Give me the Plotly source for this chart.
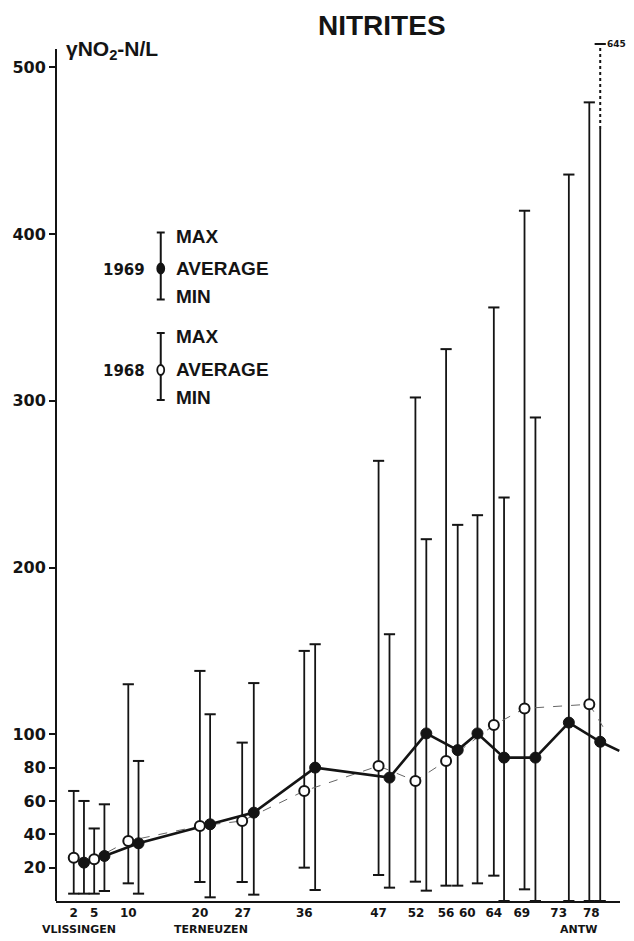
import plotly.graph_objects as go

# ---------------- data ----------------
# 1968 campaign (open circles): station position along estuary (km)
km_1968 = [2.1, 5.1, 10.1, 20.6, 26.8, 35.9, 46.8, 52.2, 56.7, 63.7, 68.2, 77.7]
avg_1968 = [26, 25, 36, 45, 48, 66, 81, 72, 84, 105.5, 115.5, 118]
max_1968 = [66, 43.5, 130, 138, 95, 150, 264, 302, 331, 356, 414, 479]
min_1968 = [4.4, 4.4, 10.6, 11.4, 11.4, 20, 15.6, 11.6, 9.2, 15.2, 7, 0]
tail_1968 = (79.7, 104.5)   # line continuing past the last station

# 1969 campaign (filled circles)
km_1969 = [3.6, 6.6, 11.6, 22.1, 28.5, 37.5, 48.4, 53.8, 58.4, 61.3, 65.2, 69.8, 74.7, 79.3]
avg_1969 = [23, 27, 34.6, 46, 53, 80, 74, 100.5, 90.5, 100.5, 86, 86, 107, 95.5]
max_1969 = [60, 58, 84, 112, 130.7, 154, 160, 217, 225.6, 231.4, 242, 290, 435.7, 645]
min_1969 = [4.4, 6, 4.4, 2.2, 3.8, 6.6, 8, 6.2, 9.2, 10.6, 0, 0, 0, 0]
tail_1969 = (82.1, 90)

# x tick labels (station km) and their positions
tick_pos = [2.1, 5.1, 10.1, 20.6, 26.9, 35.9, 46.8, 52.3, 56.7, 59.8, 63.7, 67.8, 73.2, 78.0]
tick_text = ['2', '5', '10', '20', '27', '36', '47', '52', '56', '60', '64', '69', '73', '78']
y_ticks = [20, 40, 60, 80, 100, 200, 300, 400, 500]

places = [('VLISSINGEN', 2.9), ('TERNEUZEN', 22.2), ('ANTW', 76.1)]

# axis scale settings
Y_RANGE = [0, 520]
X_RANGE = [-0.5, 82.2]
AXIS_TOP = 511      # end of the drawn y axis
BREAK_AT = 463      # broken bar: solid up to here, dashed above
DRAWN_TOP = 514     # where an off-scale maximum is drawn

# ---------------- layout geometry ----------------
W_FIG, H_FIG = 634, 941
ML, MR, MT, MB = 53, 14, 34, 40
PW, PH = W_FIG - ML - MR, H_FIG - MT - MB


def PX(px):
    return (px - ML) / PW


def PY(py):
    return (MT + PH - py) / PH


BLACK = '#141414'
NARROW = 'Liberation Sans, Arial, sans-serif'
WIDE = 'DejaVu Sans, Verdana, sans-serif'

fig = go.Figure()


def add_bars(xs, lo, hi, name):
    X, Y, cx, cy = [], [], [], []
    for x, a, b in zip(xs, lo, hi):
        top = b if b <= AXIS_TOP else BREAK_AT
        X += [x, x, None]
        Y += [a, top, None]
        cx += [x]
        cy += [a]
        if b <= AXIS_TOP:
            cx += [x]
            cy += [b]
        else:
            cx += [x]
            cy += [DRAWN_TOP]
            fig.add_trace(go.Scatter(x=[x, x], y=[BREAK_AT, DRAWN_TOP], mode='lines',
                                     line=dict(color=BLACK, width=2, dash='dot'),
                                     hoverinfo='skip', showlegend=False, cliponaxis=False))
            fig.add_annotation(x=x, y=DRAWN_TOP, xref='x', yref='y', text=str(int(b)),
                               showarrow=False, xanchor='left', yanchor='middle', xshift=5,
                               font=dict(family=WIDE, size=9, color=BLACK, weight='bold'))
    fig.add_trace(go.Scatter(x=X, y=Y, mode='lines', line=dict(color=BLACK, width=1.8),
                             hoverinfo='skip', showlegend=False, name=name, cliponaxis=False))
    fig.add_trace(go.Scatter(x=cx, y=cy, mode='markers', hoverinfo='skip', showlegend=False,
                             marker=dict(symbol='line-ew', size=8,
                                         line=dict(color=BLACK, width=2)), cliponaxis=False))


add_bars(km_1968, min_1968, max_1968, '1968 range')
add_bars(km_1969, min_1969, max_1969, '1969 range')

# connecting lines
fig.add_trace(go.Scatter(x=km_1968 + [tail_1968[0]], y=avg_1968 + [tail_1968[1]], mode='lines',
                         line=dict(color='#666666', width=1, dash='dash', shape='linear'),
                         hoverinfo='skip', showlegend=False))
fig.add_trace(go.Scatter(x=km_1969 + [tail_1969[0]], y=avg_1969 + [tail_1969[1]], mode='lines',
                         line=dict(color=BLACK, width=2.6), hoverinfo='skip', showlegend=False,
                         cliponaxis=False))

# average markers
fig.add_trace(go.Scatter(x=km_1968, y=avg_1968, mode='markers', name='1968',
                         marker=dict(symbol='circle', size=10, color='white',
                                     line=dict(color=BLACK, width=2)), showlegend=False))
fig.add_trace(go.Scatter(x=km_1969, y=avg_1969, mode='markers', name='1969',
                         marker=dict(symbol='circle', size=11, color=BLACK,
                                     line=dict(color=BLACK, width=1)), showlegend=False))

shapes = []
# y axis line (ends just above 500)
shapes.append(dict(type='line', xref='paper', yref='y', x0=0, x1=0, y0=0, y1=AXIS_TOP,
                   line=dict(color=BLACK, width=2)))

# ---------------- hand-drawn legend ----------------
def legend_item(year, filled, top_py, mid_py, bot_py, txt_py):
    xc = 158.3
    shapes.append(dict(type='line', xref='paper', yref='paper', x0=PX(xc), x1=PX(xc),
                       y0=PY(top_py), y1=PY(bot_py), line=dict(color=BLACK, width=2)))
    for yy in (top_py, bot_py):
        shapes.append(dict(type='line', xref='paper', yref='paper', x0=PX(xc - 4), x1=PX(xc + 4),
                           y0=PY(yy), y1=PY(yy), line=dict(color=BLACK, width=2)))
    shapes.append(dict(type='circle', xref='paper', yref='paper',
                       x0=PX(xc - 3.5), x1=PX(xc + 3.5), y0=PY(mid_py - 5), y1=PY(mid_py + 5),
                       fillcolor=BLACK if filled else 'white', line=dict(color=BLACK, width=1.8)))
    fig.add_annotation(x=PX(144), y=PY(mid_py + 1), xref='paper', yref='paper', text=year,
                       showarrow=False, xanchor='right', yanchor='middle',
                       font=dict(family=WIDE, size=15, color=BLACK, weight='bold'))
    for label, yy in zip(['MAX', 'AVERAGE', 'MIN'], txt_py):
        fig.add_annotation(x=PX(172), y=PY(yy), xref='paper', yref='paper', text=label,
                           showarrow=False, xanchor='left', yanchor='middle',
                           font=dict(family=NARROW, size=19, color=BLACK, weight='bold'))


legend_item('1969', True, 232.5, 268.5, 299.5, [236, 268, 297])
legend_item('1968', False, 333, 370, 400, [336, 369, 397])

# ---------------- titles / labels ----------------
fig.add_annotation(x=PX(381), y=PY(25), xref='paper', yref='paper', text='NITRITES',
                   showarrow=False, xanchor='center', yanchor='middle',
                   font=dict(family=NARROW, size=28, color=BLACK, weight='bold'))
fig.add_annotation(x=PX(61), y=PY(50), xref='paper', yref='paper',
                   text='γNO<sub>2</sub>-N/L', showarrow=False, xanchor='left', yanchor='middle',
                   font=dict(family=NARROW, size=21, color=BLACK, weight='bold'))
for name, k in places:
    fig.add_annotation(x=k, y=PY(930), xref='x', yref='paper', text=name, showarrow=False,
                       xanchor='center', yanchor='middle',
                       font=dict(family=WIDE, size=11, color=BLACK, weight='bold'))

fig.update_layout(
    width=W_FIG, height=H_FIG,
    margin=dict(l=ML, r=MR, t=MT, b=MB, pad=0),
    paper_bgcolor='white', plot_bgcolor='white',
    shapes=shapes,
    showlegend=False,
    xaxis=dict(range=X_RANGE, showgrid=False, zeroline=False, showline=True,
               linecolor=BLACK, linewidth=2, ticks='', tickvals=tick_pos, ticktext=tick_text,
               tickfont=dict(family=WIDE, size=12, color=BLACK, weight='bold'), fixedrange=True),
    yaxis=dict(range=Y_RANGE, showgrid=False, zeroline=False, showline=False,
               ticks='outside', ticklen=6, tickwidth=1.5, tickcolor=BLACK,
               tickvals=y_ticks, ticktext=[str(v) for v in y_ticks],
               tickfont=dict(family=WIDE, size=16, color=BLACK, weight='bold'), fixedrange=True),
)

fig.write_html('out.html')
